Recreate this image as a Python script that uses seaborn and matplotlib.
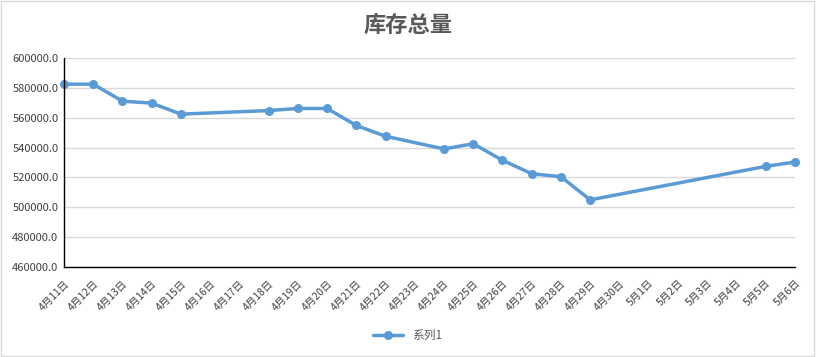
import pandas as pd
import matplotlib
matplotlib.use("Agg")
import matplotlib.pyplot as plt
import matplotlib.dates as mdates
from matplotlib.ticker import FuncFormatter
import seaborn as sns

# data
dates = ["2023-04-11", "2023-04-12", "2023-04-13", "2023-04-14", "2023-04-15",
         "2023-04-18", "2023-04-19", "2023-04-20", "2023-04-21", "2023-04-22",
         "2023-04-24", "2023-04-25", "2023-04-26", "2023-04-27", "2023-04-28",
         "2023-04-29", "2023-05-05", "2023-05-06"]
stock = [582500, 582500, 571100, 569800, 562400,
         564800, 566200, 566200, 554800, 547600,
         539100, 542600, 531500, 522500, 520500,
         505000, 527400, 530300]
series_name = "系列1"
title = "库存总量"

df = pd.DataFrame({"date": pd.to_datetime(dates), "value": stock, "series": series_name})

sns.set_style("white")
plt.rcParams['font.family'] = ['Noto Sans CJK SC', 'DejaVu Sans']

fig = plt.figure(figsize=(8.16, 3.57), dpi=100)
ax = fig.add_axes([0.0784, 0.252, 0.8956, 0.5855])

blue = "#5B9BD5"
sns.lineplot(data=df, x="date", y="value", hue="series", palette=[blue],
             marker="o", markersize=6.5, markeredgewidth=0, linewidth=2.5, ax=ax)

ax.set_ylim(460000, 600000)
ax.set_yticks(range(460000, 600001, 20000))
ax.yaxis.set_major_formatter(FuncFormatter(lambda v, p: f"{v:.1f}"))
ax.set_xlim(pd.Timestamp("2023-04-11"), pd.Timestamp("2023-05-06"))
ax.xaxis.set_major_locator(mdates.DayLocator())
ax.xaxis.set_major_formatter(FuncFormatter(
    lambda v, p: f"{mdates.num2date(v).month}月{mdates.num2date(v).day}日"))
for lbl in ax.get_xticklabels():
    lbl.set_rotation(45)
    lbl.set_ha("right")
    lbl.set_rotation_mode("anchor")

ax.tick_params(axis="x", length=5, width=1, color="black", direction="out",
               labelsize=7.5, labelcolor="#404040", pad=3)
ax.tick_params(axis="y", length=0, labelsize=8, labelcolor="#404040", pad=4)
ax.grid(axis="y", color="#d9d9d9", linewidth=1)
ax.set_axisbelow(True)
for s in ["top", "right"]:
    ax.spines[s].set_visible(False)
ax.spines["bottom"].set_color("black")
ax.spines["left"].set_color("black")
ax.spines["bottom"].set_linewidth(1)
ax.spines["left"].set_linewidth(1)
ax.set_xlabel("")
ax.set_ylabel("")
for c in ax.get_lines():
    c.set_clip_on(False)

ax.legend_.remove()
handles, labels = ax.get_legend_handles_labels()
fig.legend(handles, labels, loc="center", bbox_to_anchor=(0.5, 0.06), frameon=False,
           fontsize=8.5, labelcolor="#595959", handlelength=2.5)

fig.text(0.5, 0.93, title, ha="center", va="center", fontsize=16, fontweight="bold",
         color="#595959")

fig.patches.append(plt.Rectangle((0.001, 0.002), 0.997, 0.995, transform=fig.transFigure,
                                 fill=False, edgecolor="#d9d9d9", linewidth=1))

fig.savefig("out.png", dpi=100)
